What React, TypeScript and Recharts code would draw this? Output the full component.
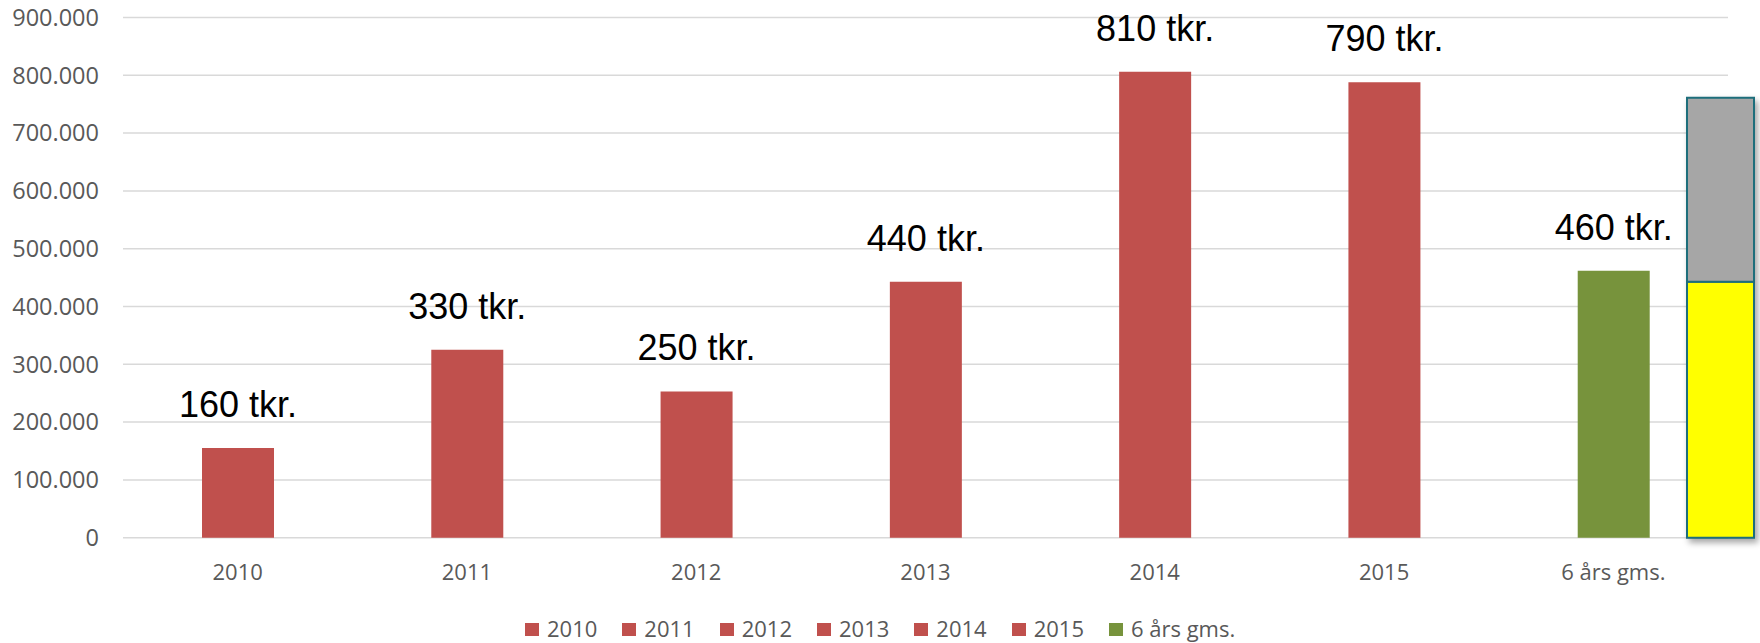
import React from 'react';
import { BarChart, Bar, XAxis, YAxis, CartesianGrid, Cell, LabelList, Legend } from 'recharts';

const categories = ['2010', '2011', '2012', '2013', '2014', '2015', '6 års gms.'];
const values = [155000, 325000, 253000, 443000, 806000, 788000, 462000];
const labels = ['160 tkr.', '330 tkr.', '250 tkr.', '440 tkr.', '810 tkr.', '790 tkr.', '460 tkr.'];
const colors = ['#C0504D', '#C0504D', '#C0504D', '#C0504D', '#C0504D', '#C0504D', '#77933C'];
const yTicks = [0, 100000, 200000, 300000, 400000, 500000, 600000, 700000, 800000, 900000];

const overlayCategory = ['ekstra'];
const overlayYellow = [443000];
const overlayGray = [318000];

const data = categories.map((c, i) => ({ name: c, value: values[i], label: labels[i] }));
const overlayData = overlayCategory.map((c, i) => ({ name: c, yellow: overlayYellow[i], gray: overlayGray[i] }));

const fmt = (v: number) => String(v).replace(/\B(?=(\d{3})+(?!\d))/g, '.');

const tickStyle = { fontFamily: '"Open Sans", sans-serif', fontSize: 22, fill: '#595959' };
const yTickStyle = { fontFamily: '"Open Sans", sans-serif', fontSize: 23.5, fill: '#595959' };

const renderLabel = (props: any) => {
  const { x, y, width, value } = props;
  return (
    <text
      x={Number(x) + Number(width) / 2}
      y={Number(y) - 31}
      textAnchor="middle"
      fontFamily='"Liberation Sans", Arial, sans-serif'
      fontSize={36}
      fill="#000000"
    >
      {value}
    </text>
  );
};

const renderLegend = () => (
  <div
    style={{
      height: 30,
      display: 'flex',
      alignItems: 'center',
      paddingLeft: 525,
      fontFamily: '"Open Sans", sans-serif',
      fontSize: 22,
      lineHeight: '26px',
      color: '#595959',
      whiteSpace: 'nowrap',
    }}
  >
    {categories.map((c, i) => (
      <div key={c} style={{ display: 'flex', alignItems: 'center', marginRight: 25 }}>
        <span style={{ display: 'inline-block', width: 14, height: 13, background: colors[i], marginRight: 8, marginTop: 3 }} />
        <span>{c}</span>
      </div>
    ))}
  </div>
);

export default function App() {
  return (
    <div style={{ position: 'absolute', left: 0, top: 0, width: 1760, height: 643, background: '#fff', overflow: 'hidden' }}>
      <div style={{ position: 'absolute', left: 0, top: 0 }}>
        <BarChart width={1760} height={643} data={data} margin={{ top: 17.5, right: 32, bottom: 0, left: 0 }}>
          <CartesianGrid vertical={false} stroke="#D9D9D9" strokeWidth={1.5} />
          <XAxis
            dataKey="name"
            axisLine={false}
            tickLine={false}
            tick={tickStyle}
            tickMargin={21}
            height={75.3}
            interval={0}
          />
          <YAxis
            domain={[0, 900000]}
            ticks={yTicks}
            tickFormatter={fmt}
            axisLine={false}
            tickLine={false}
            tick={yTickStyle}
            tickMargin={18}
            width={123}
            interval={0}
          />
          <Legend verticalAlign="bottom" content={renderLegend} />
          <Bar dataKey="value" barSize={72} isAnimationActive={false}>
            {data.map((d, i) => (
              <Cell key={d.name} fill={colors[i]} />
            ))}
            <LabelList dataKey="label" content={renderLabel} />
          </Bar>
        </BarChart>
      </div>
      <div style={{ position: 'absolute', left: 1678, top: 0, filter: 'drop-shadow(3px 4px 3px rgba(0,0,0,0.35))' }}>
        <BarChart width={84} height={643} data={overlayData} margin={{ top: 17.5, right: 0, bottom: 105.3, left: 0 }}>
          <XAxis dataKey="name" hide />
          <YAxis domain={[0, 900000]} hide />
          <Bar dataKey="yellow" stackId="s" fill="#FFFF00" stroke="#1D6E7B" strokeWidth={2} barSize={67} isAnimationActive={false} />
          <Bar dataKey="gray" stackId="s" fill="#A6A6A6" stroke="#1D6E7B" strokeWidth={2} barSize={67} isAnimationActive={false} />
        </BarChart>
      </div>
    </div>
  );
}
